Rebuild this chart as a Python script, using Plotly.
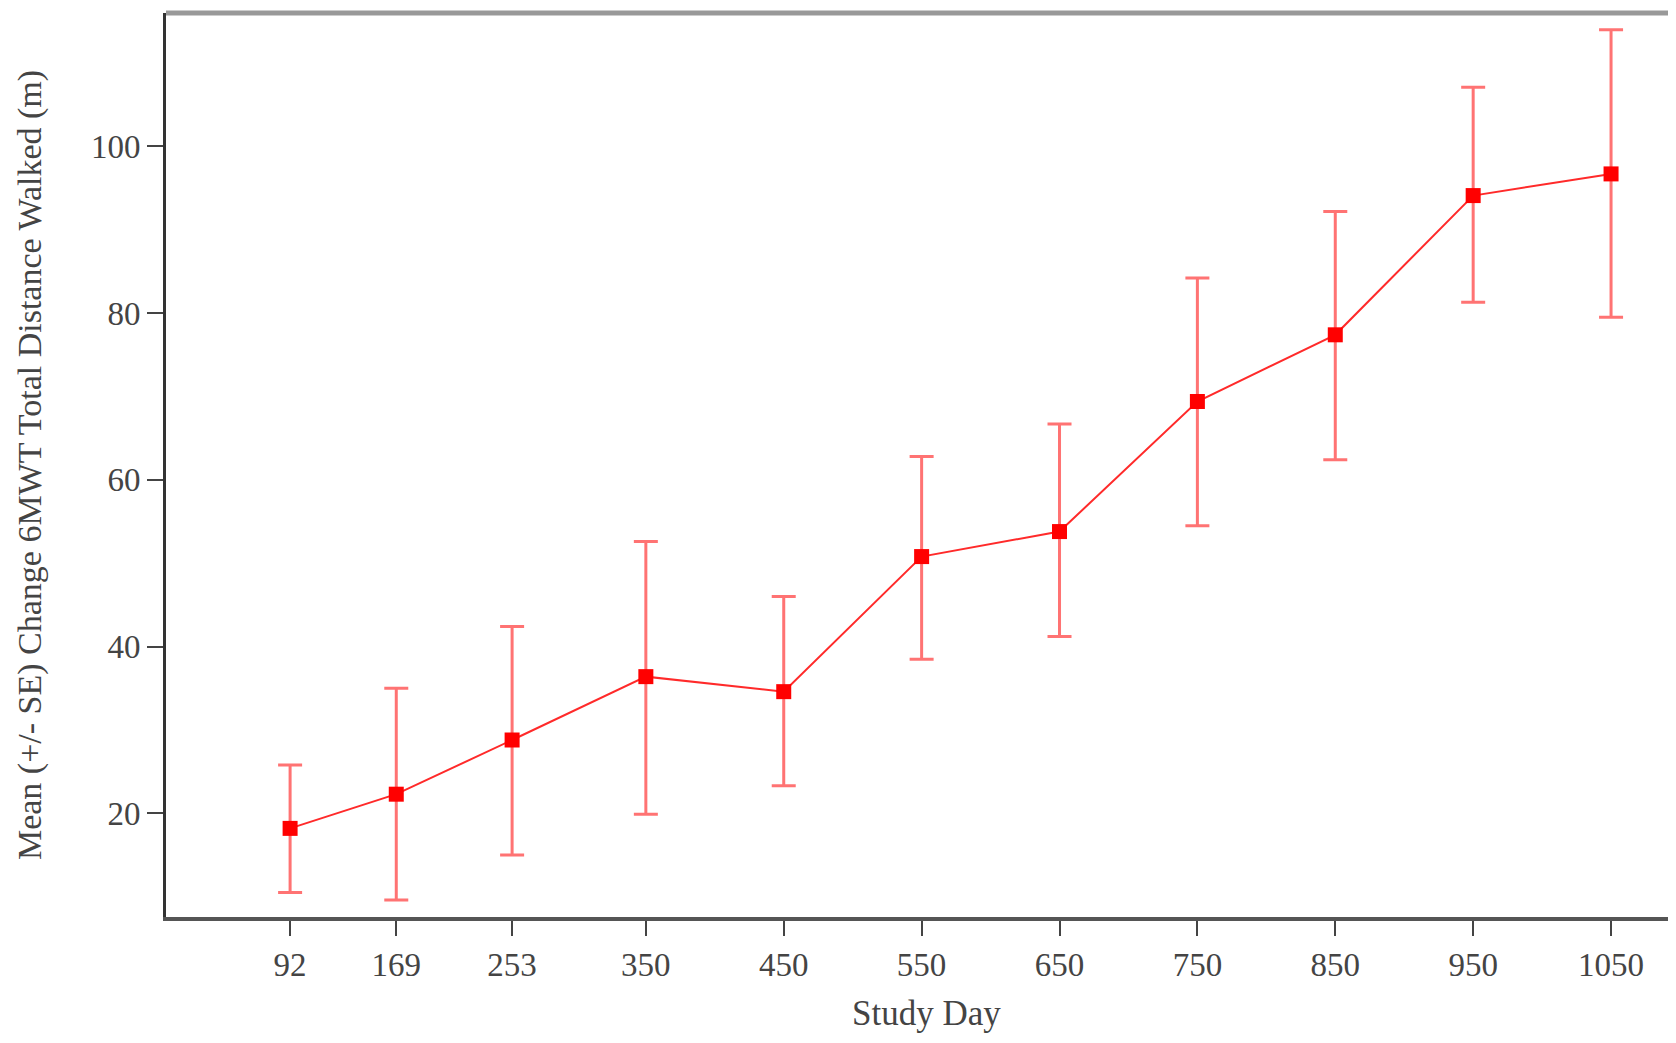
import plotly.graph_objects as go

study_day = [92, 169, 253, 350, 450, 550, 650, 750, 850, 950, 1050]
mean_change = [18.2, 22.3, 28.8, 36.4, 34.6, 50.8, 53.8, 69.4, 77.4, 94.1, 96.7]
upper = [25.8, 35.0, 42.4, 52.6, 46.0, 62.8, 66.7, 84.2, 92.2, 107.1, 114.0]
lower = [10.5, 9.6, 15.0, 19.9, 23.3, 38.5, 41.2, 54.5, 62.4, 81.3, 79.5]

err_plus = [u - m for u, m in zip(upper, mean_change)]
err_minus = [m - l for m, l in zip(mean_change, lower)]

x_ticks = study_day
y_ticks = [20, 40, 60, 80, 100]

fig = go.Figure()
fig.add_trace(go.Scatter(
    x=study_day, y=mean_change,
    mode="lines+markers",
    line=dict(color="#ff2a2a", width=2),
    marker=dict(symbol="square", size=15, color="#ff0000"),
    error_y=dict(type="data", symmetric=False, array=err_plus, arrayminus=err_minus,
                 color="rgba(255,90,90,0.85)", thickness=3, width=12),
    showlegend=False,
))

font_family = "Liberation Serif, Times New Roman, serif"
fig.update_layout(
    width=1660, height=1027,
    margin=dict(l=158, r=0, t=5, b=118),
    plot_bgcolor="white", paper_bgcolor="white",
    font=dict(family=font_family, color="#444", size=30),
    xaxis=dict(
        range=[2, 1091.3], tickvals=x_ticks, ticktext=[str(v) for v in x_ticks],
        showgrid=False, zeroline=False, automargin=False,
        showline=True, linecolor="#555", linewidth=4,
        ticks="outside", ticklen=15, tickwidth=2, tickcolor="#444",
        tickfont=dict(size=33, family=font_family, color="#444"),
    ),
    yaxis=dict(
        range=[7.57, 116.0], tickvals=y_ticks,
        showgrid=False, zeroline=False,
        showline=True, linecolor="#333", linewidth=3,
        ticks="outside", ticklen=16, tickwidth=2, tickcolor="#444",
        tickfont=dict(size=33, family=font_family, color="#444"),
        title=dict(text="Mean (+/- SE) Change 6MWT Total Distance Walked (m)",
                   font=dict(size=34, family=font_family, color="#444"), standoff=40),
    ),
    shapes=[dict(type="line", xref="paper", yref="paper", x0=0, x1=1, y0=1, y1=1,
                 line=dict(color="#999", width=5))],
    annotations=[dict(text="Study Day", xref="paper", yref="paper", x=0.506, y=0,
                      xanchor="center", yanchor="middle", yshift=-96, showarrow=False,
                      font=dict(size=35, family=font_family, color="#444"))],
)

fig.write_html("out.html")
